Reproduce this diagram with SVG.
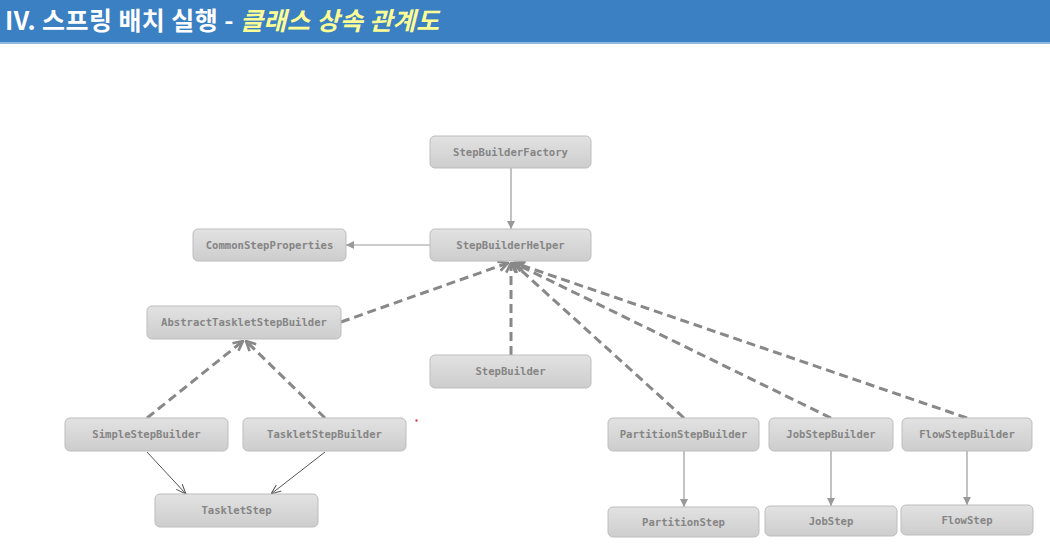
<svg xmlns="http://www.w3.org/2000/svg" width="1050" height="559" viewBox="0 0 1050 559">
<defs>
<linearGradient id="g" x1="0" y1="0" x2="0" y2="1">
<stop offset="0" stop-color="#e2e2e2"/>
<stop offset="1" stop-color="#cdcdcd"/>
</linearGradient>
<marker id="tri" viewBox="0 0 10 10" refX="10" refY="5" markerWidth="8" markerHeight="8" markerUnits="userSpaceOnUse" orient="auto">
<path d="M0,0 L10,5 L0,10 z" fill="#999"/>
</marker>
<marker id="vee" viewBox="0 0 10 10" refX="9" refY="5" markerWidth="4" markerHeight="4" orient="auto">
<path d="M1,1 L9,5 L1,9" fill="none" stroke="#888" stroke-width="2.2"/>
</marker>
<marker id="open" viewBox="0 0 10 10" refX="10" refY="5" markerWidth="10" markerHeight="10" markerUnits="userSpaceOnUse" orient="auto">
<path d="M0,1 L10,5 L0,9" fill="none" stroke="#555" stroke-width="1"/>
</marker>
</defs>
<style>
.n rect{fill:url(#g);stroke:#bdbdbd;stroke-width:1}
.n text{font-family:"DejaVu Sans Mono","Liberation Mono",monospace;font-weight:bold;font-size:10.6px;fill:#858585;text-anchor:middle}
.solid{stroke:#999;stroke-width:1.2;fill:none;marker-end:url(#tri)}
.dash{stroke:#888;stroke-width:3;stroke-dasharray:9,5;fill:none;marker-end:url(#vee)}
.thin{stroke:#555;stroke-width:1;fill:none;marker-end:url(#open)}
</style>
<rect x="0" y="0" width="1050" height="42" fill="#3a80c2"/>
<rect x="0" y="42" width="1050" height="2" fill="#8fb8df"/>
<text x="5" y="30" font-family="'Noto Sans CJK KR','Noto Sans',sans-serif" font-weight="bold" font-size="25" fill="#ffffff" textLength="434" lengthAdjust="spacing">IV. 스프링 배치 실행 - <tspan fill="#fdfd96" font-style="italic">클래스 상속 관계도</tspan></text>

<g id="connectors">
<line class="solid" x1="511" y1="168" x2="511" y2="229"/>
<line class="solid" x1="430" y1="245" x2="346" y2="245"/>
<line class="dash" x1="341" y1="322" x2="508" y2="263"/>
<line class="dash" x1="511" y1="355" x2="511" y2="263"/>
<line class="dash" x1="684" y1="418" x2="513" y2="263"/>
<line class="dash" x1="831" y1="418" x2="514" y2="263"/>
<line class="dash" x1="967" y1="418" x2="515" y2="263"/>
<line class="dash" x1="147" y1="418" x2="243" y2="341"/>
<line class="dash" x1="325" y1="418" x2="246" y2="341"/>
<line class="thin" x1="147" y1="452" x2="186" y2="494"/>
<line class="thin" x1="325" y1="452" x2="271" y2="494"/>
<line class="solid" x1="684" y1="451" x2="684" y2="507"/>
<line class="solid" x1="831" y1="451" x2="831" y2="506"/>
<line class="solid" x1="967" y1="451" x2="967" y2="505"/>
</g>

<g id="StepBuilderFactory" class="n"><rect x="430" y="136" width="161" height="32" rx="5"/><text x="510.5" y="156">StepBuilderFactory</text></g>
<g id="StepBuilderHelper" class="n"><rect x="430" y="229" width="161" height="32" rx="5"/><text x="510.5" y="249">StepBuilderHelper</text></g>
<g id="CommonStepProperties" class="n"><rect x="193" y="229" width="153" height="32" rx="5"/><text x="269.5" y="249">CommonStepProperties</text></g>
<g id="AbstractTaskletStepBuilder" class="n"><rect x="147" y="306" width="194" height="33" rx="5"/><text x="244" y="326">AbstractTaskletStepBuilder</text></g>
<g id="StepBuilder" class="n"><rect x="430" y="355" width="161" height="33" rx="5"/><text x="510.5" y="375">StepBuilder</text></g>
<g id="SimpleStepBuilder" class="n"><rect x="65" y="418" width="163" height="33" rx="5"/><text x="146.5" y="438">SimpleStepBuilder</text></g>
<g id="TaskletStepBuilder" class="n"><rect x="243" y="418" width="163" height="33" rx="5"/><text x="324.5" y="438">TaskletStepBuilder</text></g>
<g id="TaskletStep" class="n"><rect x="155" y="494" width="163" height="33" rx="5"/><text x="236.5" y="514">TaskletStep</text></g>
<g id="PartitionStepBuilder" class="n"><rect x="608" y="418" width="151" height="33" rx="5"/><text x="683.5" y="438">PartitionStepBuilder</text></g>
<g id="JobStepBuilder" class="n"><rect x="769" y="418" width="124" height="33" rx="5"/><text x="831" y="438">JobStepBuilder</text></g>
<g id="FlowStepBuilder" class="n"><rect x="902" y="418" width="130" height="33" rx="5"/><text x="967" y="438">FlowStepBuilder</text></g>
<g id="PartitionStep" class="n"><rect x="608" y="507" width="151" height="30" rx="5"/><text x="683.5" y="526">PartitionStep</text></g>
<g id="JobStep" class="n"><rect x="765" y="506" width="132" height="30" rx="5"/><text x="831" y="525">JobStep</text></g>
<g id="FlowStep" class="n"><rect x="901" y="505" width="132" height="30" rx="5"/><text x="967" y="524">FlowStep</text></g>
<rect x="415.5" y="419.5" width="2" height="2" fill="#e02020"/>
</svg>
